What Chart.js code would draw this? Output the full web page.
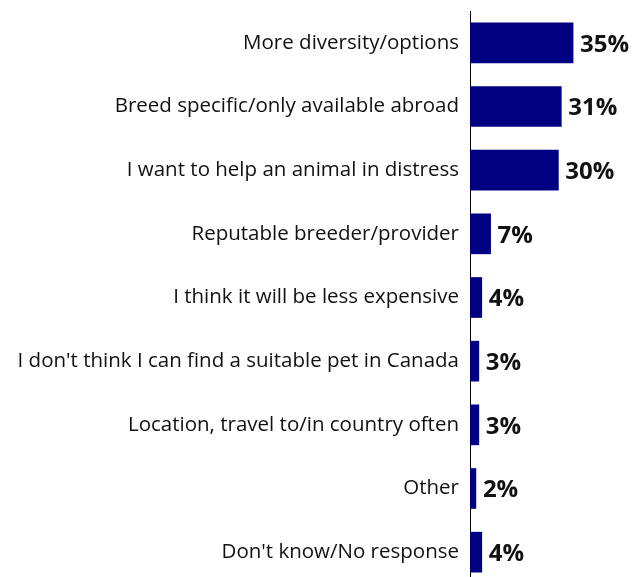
<!DOCTYPE html>
<html><head><meta charset="utf-8">
<script src="https://cdn.jsdelivr.net/npm/chart.js@4/dist/chart.umd.min.js"></script>
<style>html,body{margin:0;padding:0;background:#fff;overflow:hidden;width:634px;height:577px}#wrap{width:634px;height:584px;position:relative}</style>
</head><body><div id="wrap"><canvas id="c"></canvas></div>
<script>
const categories = ["More diversity/options","Breed specific/only available abroad","I want to help an animal in distress","Reputable breeder/provider","I think it will be less expensive","I don't think I can find a suitable pet in Canada","Location, travel to/in country often","Other","Don't know/No response"];
const values = [35,31,30,7,4,3,3,2,4];

const valueLabels = {
  id:'valueLabels',
  afterDatasetsDraw(chart){
    const ctx = chart.ctx;
    const meta = chart.getDatasetMeta(0);
    ctx.save();
    ctx.font = 'bold 24px "Open Sans", sans-serif';
    ctx.fillStyle = '#111';
    ctx.textAlign = 'left';
    ctx.textBaseline = 'middle';
    meta.data.forEach((bar,i)=>{
      ctx.fillText(values[i]+'%', bar.x+7, bar.y+2);
    });
    ctx.restore();
  }
};

new Chart(document.getElementById('c'),{
  type:'bar',
  data:{labels:categories,datasets:[{data:values,backgroundColor:'#000080',barThickness:40}]},
  options:{
    indexAxis:'y',responsive:true,maintainAspectRatio:false,animation:false,
    layout:{padding:{top:11,right:2,bottom:0,left:0}},
    plugins:{legend:{display:false},tooltip:{enabled:false}},
    scales:{
      x:{display:false,min:0,max:55},
      y:{
        afterFit(s){s.width=470;s.paddingTop=0;s.paddingBottom=0;},
        grid:{display:false,drawTicks:false},
        border:{display:true,color:'#000',width:1},
        ticks:{color:'#111',padding:11,font:{family:'"Open Sans", sans-serif',size:20.5}}
      }
    }
  },
  plugins:[valueLabels]
});
</script></body></html>
